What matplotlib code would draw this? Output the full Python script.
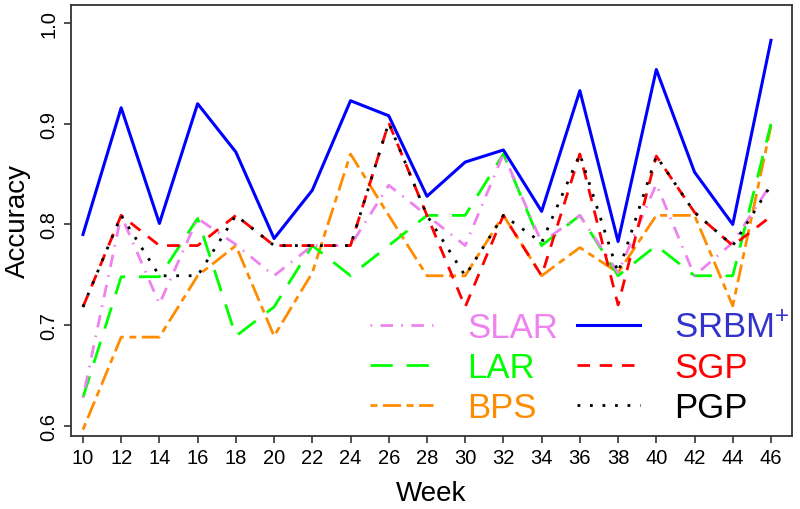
import matplotlib
matplotlib.use('Agg')
import matplotlib.pyplot as plt

plt.rcParams['font.family'] = ['Liberation Sans', 'DejaVu Sans']
plt.rcParams['mathtext.default'] = 'regular'

weeks = list(range(10, 47, 2))

srbm = [0.790, 0.916, 0.801, 0.920, 0.872, 0.786, 0.834, 0.923, 0.908, 0.828,
        0.862, 0.874, 0.813, 0.933, 0.783, 0.954, 0.852, 0.800, 0.983]
sgp = [0.718, 0.809, 0.779, 0.779, 0.809, 0.779, 0.779, 0.779, 0.901, 0.809,
       0.718, 0.809, 0.749, 0.870, 0.720, 0.868, 0.812, 0.779, 0.808]
pgp = [0.718, 0.809, 0.749, 0.749, 0.809, 0.779, 0.779, 0.779, 0.901, 0.809,
       0.749, 0.809, 0.782, 0.870, 0.752, 0.868, 0.812, 0.779, 0.839]
slar = [0.628, 0.809, 0.721, 0.806, 0.780, 0.749, 0.779, 0.779, 0.839, 0.809,
        0.779, 0.870, 0.782, 0.809, 0.752, 0.840, 0.749, 0.782, 0.840]
lar = [0.628, 0.748, 0.748, 0.806, 0.689, 0.718, 0.779, 0.749, 0.779, 0.809,
       0.809, 0.870, 0.779, 0.809, 0.749, 0.779, 0.749, 0.749, 0.900]
bps = [0.596, 0.688, 0.688, 0.749, 0.779, 0.689, 0.752, 0.870, 0.809, 0.749,
       0.749, 0.809, 0.749, 0.777, 0.752, 0.809, 0.809, 0.719, 0.898]

fig = plt.figure(figsize=(8, 5.1), dpi=100)
ax = fig.add_axes([0.0884, 0.1437, 0.9016, 0.8443])

lw = 2.0
l_bps, = ax.plot(weeks, bps, color='darkorange', lw=lw, dashes=(2.5, 2, 6.5, 2), label='BPS')
l_lar, = ax.plot(weeks, lar, color='#00ff00', lw=lw, dashes=(8, 5), label='LAR')
l_slar, = ax.plot(weeks, slar, color='violet', lw=lw, dashes=(0.6, 3, 4.5, 3), label='SLAR')
l_srbm, = ax.plot(weeks, srbm, color='blue', lw=2.2, label=r'SRBM$^{+}$')
l_sgp, = ax.plot(weeks, sgp, color='red', lw=lw, dashes=(4.5, 3.5), label='SGP')
l_pgp, = ax.plot(weeks, pgp, color='black', lw=lw, dashes=(1, 3.5), label='PGP')

ax.set_xlim(9.36, 47.1)
ax.set_ylim(0.59, 1.018)
ax.set_xticks(weeks)
ax.set_yticks([0.6, 0.7, 0.8, 0.9, 1.0])
ax.set_yticklabels(['0.6', '0.7', '0.8', '0.9', '1.0'], rotation=90, va='center')

tick_font = ['Liberation Sans Narrow', 'Liberation Sans', 'DejaVu Sans']
for lab in ax.get_xticklabels() + ax.get_yticklabels():
    lab.set_family(tick_font)
    lab.set_fontsize(14.5)
ax.tick_params(direction='out', length=5, width=1.2, color='#333333', pad=4)

for s in ax.spines.values():
    s.set_color('#333333')
    s.set_linewidth(1.3)

ax.set_xlabel('Week', fontsize=20, labelpad=9)
ax.set_ylabel('Accuracy', fontsize=20, labelpad=6)

handles = [l_slar, l_lar, l_bps, l_srbm, l_sgp, l_pgp]
colors = ['violet', '#00ff00', 'darkorange', '#3333cc', 'red', 'black']
leg = ax.legend(handles=handles, ncol=2, frameon=False, fontsize=25,
                handlelength=1.8, handletextpad=1.0, columnspacing=0.55,
                labelspacing=0.2, loc='upper left', borderpad=0, borderaxespad=0,
                bbox_to_anchor=(0.4625, 0.388), bbox_transform=fig.transFigure)
for t, c in zip(leg.get_texts(), colors):
    t.set_color(c)

fig.savefig('out.png', dpi=100)
